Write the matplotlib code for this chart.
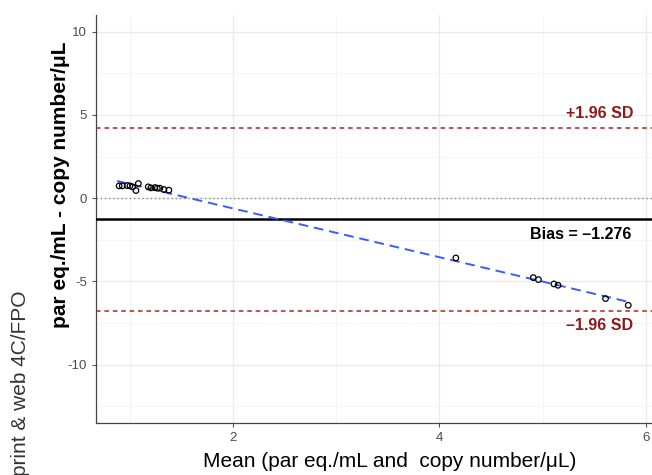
import numpy as np
import matplotlib
matplotlib.use("Agg")
import matplotlib.pyplot as plt
from matplotlib.ticker import MultipleLocator

plt.rcParams['font.family'] = ['Liberation Sans', 'DejaVu Sans']

# Data
mean_vals = [0.898, 0.928, 0.977, 1.003, 1.029, 1.061, 1.084, 1.18, 1.206, 1.245,
             1.268, 1.293, 1.332, 1.38,
             4.16, 4.91, 4.96, 5.11, 5.15, 5.61, 5.83]
diff_vals = [0.74, 0.74, 0.76, 0.74, 0.68, 0.46, 0.88, 0.68, 0.62, 0.64,
             0.60, 0.60, 0.52, 0.48,
             -3.59, -4.77, -4.89, -5.15, -5.23, -6.03, -6.43]
bias = -1.276
upper_loa = 4.21
lower_loa = -6.76
x_ticks = [2, 4, 6]
y_ticks = [-10, -5, 0, 5, 10]

fig = plt.figure(figsize=(6.52, 4.75), dpi=100)
ax = fig.add_axes([96/652, 52/475, 1 - 96/652, (423-15)/475])
ax.set_xlim(0.674, 6.06)
ax.set_ylim(-13.5, 11.0)

ax.set_xticks(x_ticks)
ax.set_yticks(y_ticks)
ax.set_yticklabels([str(v) for v in y_ticks])
ax.xaxis.set_minor_locator(MultipleLocator(1))
ax.yaxis.set_minor_locator(MultipleLocator(2.5))
ax.grid(which='major', color='#EBEBEB', linewidth=1.0, zorder=0)
ax.grid(which='minor', color='#F4F4F4', linewidth=0.6, zorder=0)
ax.tick_params(which='minor', length=0)
ax.tick_params(which='major', length=3, color='#555555', labelcolor='#4D4D4D',
               labelsize=9.5, width=0.8)
for s in ['top', 'right']:
    ax.spines[s].set_visible(False)
for s in ['left', 'bottom']:
    ax.spines[s].set_color('#444444')
    ax.spines[s].set_linewidth(0.9)

# Reference lines
ax.axhline(0, color='#888888', linestyle=(0, (1, 2)), linewidth=1.0, zorder=2)
ax.axhline(bias, color='black', linewidth=1.8, zorder=3)
ax.axhline(upper_loa, color='#B22222', linestyle=(0, (3, 2.5)), linewidth=1.1, zorder=3)
ax.axhline(lower_loa, color='#B22222', linestyle=(0, (3, 2.5)), linewidth=1.1, zorder=3)

# Regression line
xm = np.array(mean_vals)
ym = np.array(diff_vals)
k, b0 = np.polyfit(xm, ym, 1)
xx = np.array([xm.min() - 0.02, xm.max()])
ax.plot(xx, k * xx + b0, color='#3B5BFF', linestyle=(0, (5, 3)), linewidth=1.4, zorder=4)

# Points
ax.scatter(mean_vals, diff_vals, s=16, facecolors='none', edgecolors='black',
           linewidths=0.9, zorder=5)

# Annotations
ax.text(5.88, upper_loa + 0.45, '+1.96 SD', color='#8B1A1A', fontsize=11.5,
        fontweight='bold', ha='right', va='bottom')
ax.text(5.88, lower_loa - 0.45, '\u20131.96 SD', color='#8B1A1A', fontsize=11.5,
        fontweight='bold', ha='right', va='top')
ax.text(5.86, bias - 0.45, 'Bias = \u20131.276', color='black', fontsize=11.5,
        fontweight='bold', ha='right', va='top')

ax.set_xlabel('Mean (par eq./mL and  copy number/\u03bcL)', fontsize=15,
              color='black')
ax.xaxis.set_label_coords(0.529, -0.07)
ax.set_ylabel('par eq./mL - copy number/\u03bcL', fontsize=15, fontweight='bold',
              color='black')
ax.yaxis.set_label_coords(-0.047, 0.585)

fig.text(21/652, 1 - 290/475, 'print & web 4C/FPO', rotation=90, fontsize=15,
         color='#333333', ha='center', va='top')

fig.savefig('out.png', dpi=100)
